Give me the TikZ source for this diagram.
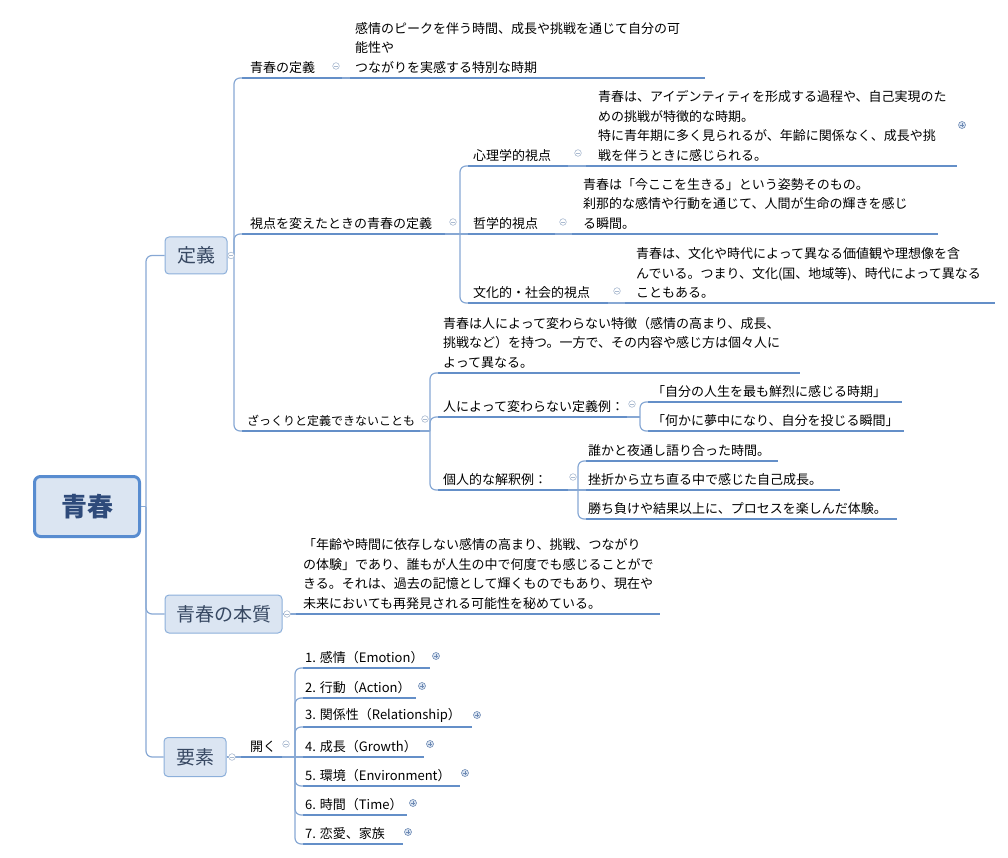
\documentclass[tikz,border=0pt]{standalone}
\usepackage{fontspec}
\setmainfont{Noto Sans CJK JP}
\usetikzlibrary{calc}
\definecolor{ulc}{RGB}{100,143,200}
\definecolor{cnc}{RGB}{135,168,212}
\definecolor{mkc}{RGB}{170,186,208}
\definecolor{mkp}{RGB}{110,138,180}
\definecolor{boxf}{RGB}{219,229,242}
\definecolor{boxd}{RGB}{140,175,218}
\definecolor{rootd}{RGB}{88,140,208}
\definecolor{roott}{RGB}{46,74,122}
\definecolor{maint}{RGB}{55,72,98}
\newcommand\topic[6]{%
  \draw[ul] (#2,#4) coordinate (#1-l) -- (#5,#4) coordinate (#1-r);
  \node[txt] (#1) at (#3,#4-4.5) {#6};
}
\newcommand\cmin[2]{\draw[mk] (#1,#2) circle (3.3pt); \draw[mk] (#1-1.8,#2) -- (#1+1.8,#2);}
\newcommand\cplus[2]{\draw[mkplus] (#1,#2) circle (3.5pt); \draw[mkplus] (#1-2,#2) -- (#1+2,#2) (#1,#2-2) -- (#1,#2+2);}
\begin{document}
\begin{tikzpicture}[x=1pt,y=-1pt,
  txt/.style={inner sep=0pt, anchor=south west, align=left, font=\fontsize{13}{19.5}\selectfont, text=black},
  ul/.style={draw=ulc, line width=1.8pt},
  conn/.style={draw=cnc, line width=1.2pt},
  rconn/.style={conn, rounded corners=6pt},
  mk/.style={draw=mkc, line width=0.6pt, fill=white},
  mkplus/.style={draw=mkp, line width=0.6pt, fill=boxf},
  maintopic/.style={draw=boxd, fill=boxf, rounded corners=4pt, line width=1pt, text=maint, font=\fontsize{19}{22}\selectfont, inner sep=0pt},
  roottopic/.style={draw=rootd, fill=boxf, rounded corners=6pt, line width=3pt, text=roott, font=\fontsize{26}{30}\selectfont\bfseries, inner sep=0pt}
]
\useasboundingbox (0,0) rectangle (1008,858);

% topics
\node[roottopic, minimum width=105pt, minimum height=60pt] (root) at (87,506.5) {青春};
\node[maintopic, minimum width=62pt, minimum height=37pt] (def) at (196,255.5) {定義};
\node[maintopic, minimum width=117pt, minimum height=38pt] (ess) at (223.5,614) {青春の本質};
\node[maintopic, minimum width=62pt, minimum height=39pt] (elem) at (195,757) {要素};

% definition branch
\topic{d1}{242}{250}{78}{342}{青春の定義}
\topic{d1c}{350}{355}{78}{705}{感情のピークを伴う時間、成長や挑戦を通じて自分の可\\能性や\\つながりを実感する特別な時期}
\topic{d2}{242}{250}{234}{445}{視点を変えたときの青春の定義}
\topic{d2a}{468}{473}{166}{568}{心理学的視点}
\topic{d2a1}{586}{598}{166}{957}{青春は、アイデンティティを形成する過程や、自己実現のた\\めの挑戦が特徴的な時期。\\特に青年期に多く見られるが、年齢に関係なく、成長や挑\\戦を伴うときに感じられる。}
\topic{d2b}{468}{473}{234}{555}{哲学的視点}
\topic{d2b1}{572}{583}{234}{938}{青春は「今ここを生きる」という姿勢そのもの。\\刹那的な感情や行動を通じて、人間が生命の輝きを感じ\\る瞬間。}
\topic{d2c}{468}{473}{303}{608}{文化的・社会的視点}
\topic{d2c1}{625}{636}{303}{995}{青春は、文化や時代によって異なる価値観や理想像を含\\んでいる。つまり、文化(国、地域等)、時代によって異なる\\こともある。}
\topic{d3}{242}{247}{431}{420}{{\fontsize{12}{19.5}\selectfont ざっくりと定義できないことも}}
\topic{d3a}{438}{443}{373}{800}{青春は人によって変わらない特徴（感情の高まり、成長、\\挑戦など）を持つ。一方で、その内容や感じ方は個々人に\\よって異なる。}
\topic{d3b}{438}{443}{417}{627}{人によって変わらない定義例：}
\topic{d3b1}{648}{652}{402}{902}{「自分の人生を最も鮮烈に感じる時期」}
\topic{d3b2}{648}{652}{431}{904}{「何かに夢中になり、自分を投じる瞬間」}
\topic{d3c}{438}{443}{490}{568}{個人的な解釈例：}
\topic{d3c1}{586}{588}{461}{778}{誰かと夜通し語り合った時間。}
\topic{d3c2}{586}{588}{490}{840}{挫折から立ち直る中で感じた自己成長。}
\topic{d3c3}{586}{588}{519}{897}{勝ち負けや結果以上に、プロセスを楽しんだ体験。}

% essence
\topic{ess1}{296}{303}{614}{660}{「年齢や時間に依存しない感情の高まり、挑戦、つながり\\の体験」であり、誰もが人生の中で何度でも感じることがで\\きる。それは、過去の記憶として輝くものでもあり、現在や\\未来においても再発見される可能性を秘めている。}

% elements
\topic{open}{241}{250}{757}{282}{開く}
\topic{e1}{303}{305}{668}{430}{1. 感情（Emotion）}
\topic{e2}{303}{305}{698}{416}{2. 行動（Action）}
\topic{e3}{303}{305}{727}{472}{3. 関係性（Relationship）}
\topic{e4}{303}{305}{757}{424}{4. 成長（Growth）}
\topic{e5}{303}{305}{786}{460}{5. 環境（Environment）}
\topic{e6}{303}{305}{815}{407}{6. 時間（Time）}
\topic{e7}{303}{305}{844}{403}{7. 恋愛、家族}

% connectors: root
\draw[conn] (root.east) -- (146,506.5) coordinate (rj);
\draw[rconn] (rj) |- (def.west);
\draw[rconn] (rj) |- (ess.west);
\draw[rconn] (rj) |- (elem.west);

% connectors: definition
\draw[conn] (def.east) -- (234,255.5) coordinate (dj);
\draw[rconn] (dj) |- (d1-l);
\draw[rconn] (dj) |- (d2-l);
\draw[rconn] (dj) |- (d3-l);
\draw[conn] (d1-r) -- (d1c-l);
\draw[conn] (d2-r) -- (460,234) coordinate (d2j);
\draw[rconn] (d2j) |- (d2a-l);
\draw[conn] (d2j) -- (d2b-l);
\draw[rconn] (d2j) |- (d2c-l);
\draw[conn] (d2a-r) -- (d2a1-l);
\draw[conn] (d2b-r) -- (d2b1-l);
\draw[conn] (d2c-r) -- (d2c1-l);
\draw[conn] (d3-r) -- (430,431) coordinate (d3j);
\draw[rconn] (d3j) |- (d3a-l);
\draw[rconn] (d3j) |- (d3b-l);
\draw[rconn] (d3j) |- (d3c-l);
\draw[conn] (d3b-r) -- (640,417) coordinate (d3bj);
\draw[rconn] (d3bj) |- (d3b1-l);
\draw[rconn] (d3bj) |- (d3b2-l);
\draw[conn] (d3c-r) -- (578,490) coordinate (d3cj);
\draw[rconn] (d3cj) |- (d3c1-l);
\draw[conn] (d3cj) -- (d3c2-l);
\draw[rconn] (d3cj) |- (d3c3-l);

% connectors: essence and elements
\draw[conn] (ess.east) -- (ess1-l);
\draw[conn] (elem.east) -- (open-l);
\draw[conn] (open-r) -- (295,757) coordinate (oj);
\draw[rconn] (oj) |- (e1-l);
\draw[rconn] (oj) |- (e2-l);
\draw[rconn] (oj) |- (e3-l);
\draw[conn] (oj) -- (e4-l);
\draw[rconn] (oj) |- (e5-l);
\draw[rconn] (oj) |- (e6-l);
\draw[rconn] (oj) |- (e7-l);

% collapse markers
\cmin{231}{255.5}
\cmin{287}{614}
\cmin{232}{757}
\cmin{336}{66}
\cmin{453}{222}
\cmin{578}{153}
\cmin{563}{222}
\cmin{617}{291}
\cmin{425}{419}
\cmin{632}{404}
\cmin{573}{477}
\cmin{286}{744}
\cplus{962}{125}
\cplus{436}{656}
\cplus{422}{686}
\cplus{477}{715}
\cplus{430}{744}
\cplus{465}{773}
\cplus{413}{803}
\cplus{408}{832}
\end{tikzpicture}
\end{document}
